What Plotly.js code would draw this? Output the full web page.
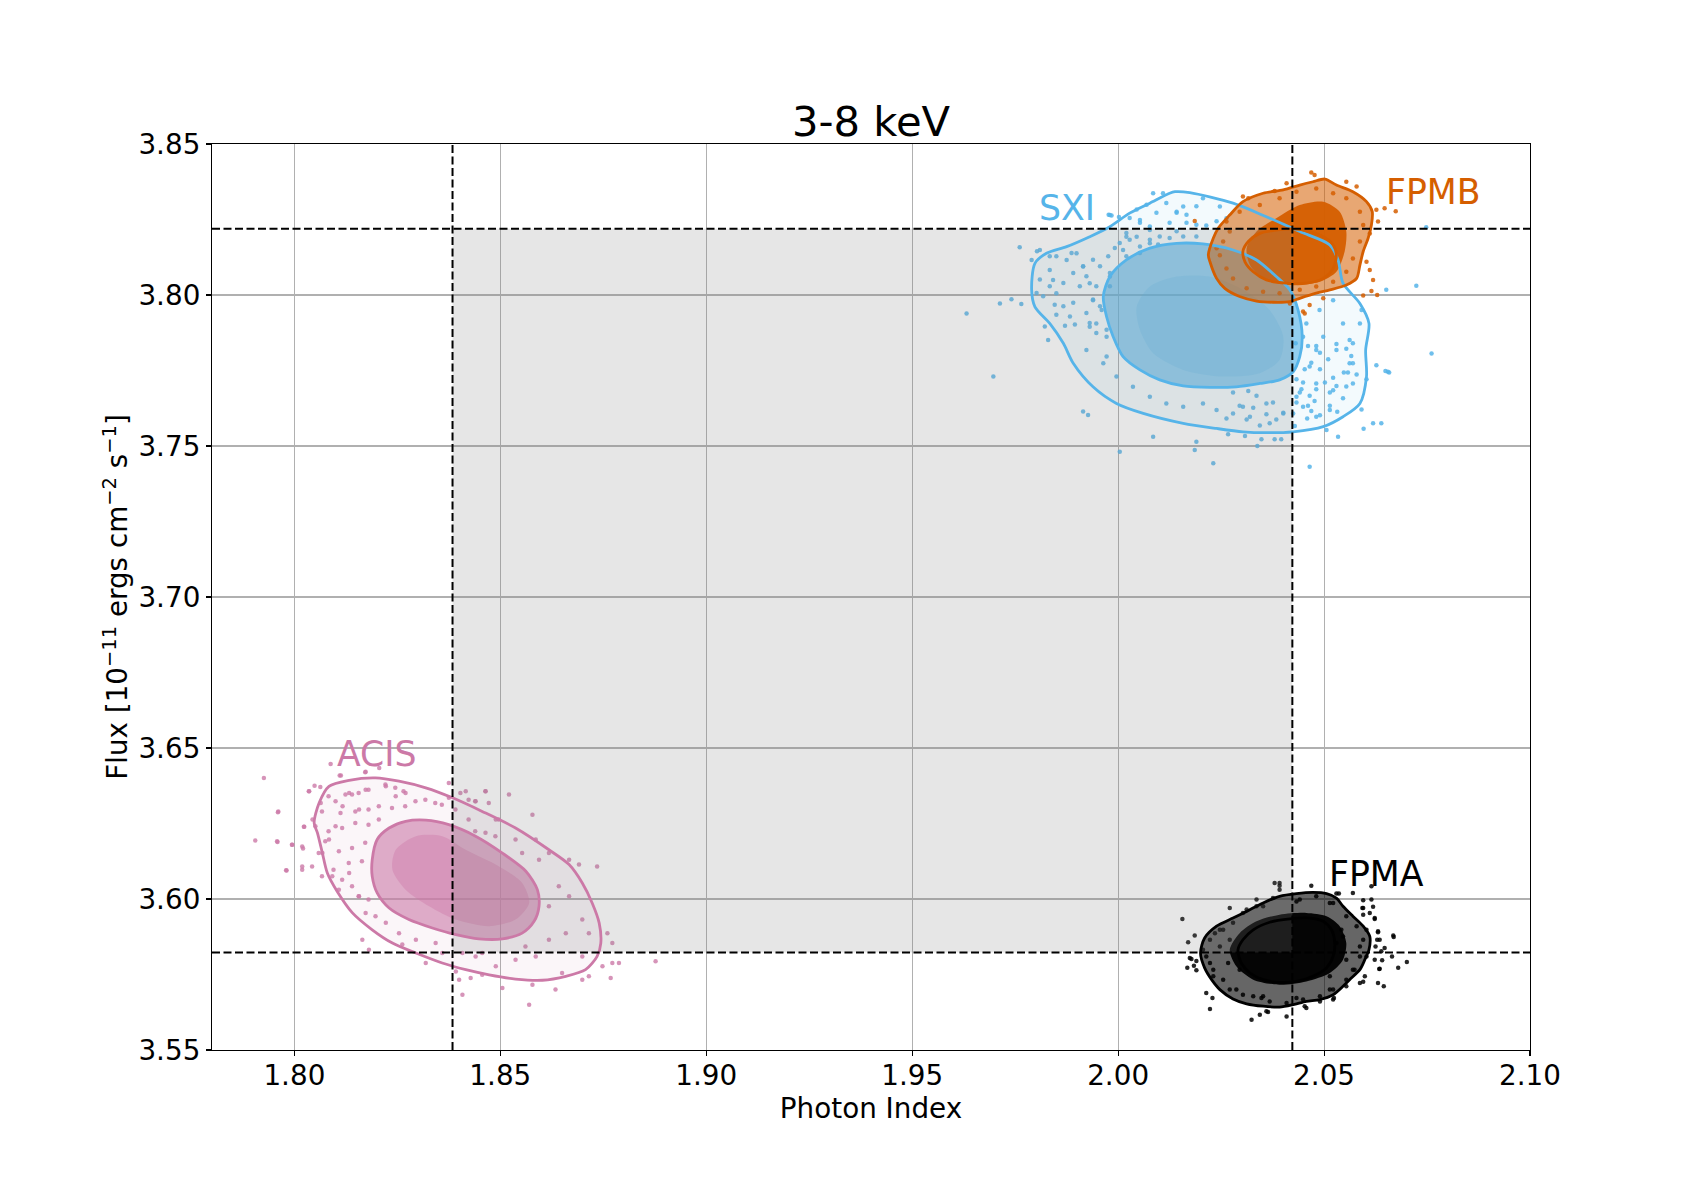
<!DOCTYPE html>
<html>
<head>
<meta charset="utf-8">
<script src="https://cdn.plot.ly/plotly-3.0.1.min.js"></script>
<style>html,body{margin:0;padding:0;background:#fff;}#plot{width:1700px;height:1200px;}</style>
</head>
<body>
<div id="plot"></div>
<script>
// ---------- axis ticks ----------
const xTicks = [1.80, 1.85, 1.90, 1.95, 2.00, 2.05, 2.10];
const xTickLabels = ["1.80", "1.85", "1.90", "1.95", "2.00", "2.05", "2.10"];
const yTicks = [3.55, 3.60, 3.65, 3.70, 3.75, 3.80, 3.85];
const yTickLabels = ["3.55", "3.60", "3.65", "3.70", "3.75", "3.80", "3.85"];

// ---------- reference bounds (dashed lines / shaded region) ----------
const indexLow = 1.8384, indexHigh = 2.0423;
const fluxLow = 3.5823, fluxHigh = 3.8219;

// ---------- instrument labels ----------
const labelNames = ["ACIS", "SXI", "FPMB", "FPMA"];
const labelX = [1.8099, 1.9803, 2.0646, 2.0506];
const labelY = [3.6448, 3.8254, 3.8307, 3.6050];

// ---------- ACIS ----------
const acisOuterX = [1.8048,1.8060,1.8084,1.8133,1.8197,1.8254,1.8319,1.8384,1.8456,1.8537,1.8618,1.8667,1.8699,1.8723,1.8740,1.8744,1.8735,1.8707,1.8659,1.8602,1.8537,1.8473,1.8416,1.8359,1.8295,1.8238,1.8189,1.8141,1.8104,1.8080,1.8068,1.8056];
const acisOuterY = [3.6252,3.6318,3.6373,3.6393,3.6401,3.6390,3.6368,3.6335,3.6290,3.6235,3.6163,3.6114,3.6053,3.5987,3.5921,3.5854,3.5810,3.5766,3.5744,3.5731,3.5735,3.5749,3.5766,3.5788,3.5821,3.5854,3.5898,3.5954,3.6025,3.6086,3.6152,3.6219];
const acisInnerX = [1.8189,1.8201,1.8230,1.8270,1.8319,1.8375,1.8440,1.8505,1.8562,1.8590,1.8594,1.8582,1.8553,1.8505,1.8448,1.8392,1.8335,1.8278,1.8230,1.8201,1.8189];
const acisInnerY = [3.6130,3.6197,3.6235,3.6257,3.6261,3.6246,3.6208,3.6152,3.6092,3.6031,3.5976,3.5926,3.5887,3.5868,3.5868,3.5882,3.5904,3.5932,3.5970,3.6020,3.6075];
const acisCoreX = [1.8246,1.8295,1.8359,1.8416,1.8497,1.8553,1.8570,1.8537,1.8473,1.8392,1.8327,1.8270,1.8238];
const acisCoreY = [3.6163,3.6208,3.6208,3.6163,3.6108,3.6053,3.5987,3.5932,3.5910,3.5932,3.5976,3.6031,3.6097];
const acisPtsX = [1.7926,1.7961,1.7905,1.7959,1.7995,1.7981,1.8019,1.8024,1.8036,1.8088,1.8113,1.8173,1.8206,1.8019,1.8044,1.8064,1.8068,1.8084,1.8100,1.8117,1.8133,1.8157,1.8173,1.8222,1.8246,1.8270,1.8133,1.8108,1.8173,1.8165,1.8181,1.8222,1.8262,1.8295,1.8319,1.8359,1.8375,1.8416,1.8464,1.8521,1.8578,1.8440,1.8489,1.8537,1.8586,1.8618,1.8667,1.8691,1.8735,1.8642,1.8667,1.8618,1.8699,1.8715,1.8760,1.8772,1.8748,1.8772,1.8788,1.8768,1.8877,1.8715,1.8699,1.8650,1.8634,1.8578,1.8570,1.8505,1.8456,1.8428,1.8408,1.8400,1.8392,1.8440,1.8489,1.8537,1.8586,1.8618,1.8659,1.8561,1.8456,1.8408,1.8343,1.8254,1.8197,1.8157,1.8092,1.8594,1.8553,1.8699,
  1.7960,1.7958,1.7994,1.7980,1.8019,1.8021,1.8023,1.8035,1.8049,1.8063,1.8110,1.8172,1.8083,1.8100,1.8124,1.8140,1.8156,1.8180,1.8221,1.8245,1.8265,1.8294,1.8318,1.8342,1.8358,1.8375,1.8403,1.8423,1.8439,1.8464,1.8472,1.8496,1.8067,1.8112,1.8148,1.8180,1.8205,1.8237,1.8269,1.8051,1.8083,1.8116,1.8148,1.8180,1.8205,1.8075,1.8108,1.8140,1.8172,1.8059,1.8043,1.8067,1.8095,1.8132,1.8164,1.8116,1.8140,1.8156,1.8180,1.8391,1.8439,1.8464,1.8488,1.8423];
const acisPtsY = [3.6401,3.6290,3.6194,3.6189,3.6180,3.6094,3.6108,3.6239,3.6357,3.6447,3.6409,3.6421,3.6434,3.6174,3.6263,3.6318,3.6152,3.6197,3.6241,3.6307,3.6351,3.6296,3.6362,3.6373,3.6340,3.6351,3.6086,3.6031,3.5954,3.5865,3.5832,3.5921,3.5849,3.5865,3.5788,3.5821,3.6384,3.6357,3.6357,3.6346,3.6279,3.6324,3.6263,3.6197,3.6197,3.6152,3.6130,3.6114,3.6108,3.6042,3.6009,3.5976,3.5932,3.5887,3.5887,3.5854,3.5777,3.5788,3.5788,3.5738,3.5794,3.5744,3.5733,3.5755,3.5700,3.5716,3.5650,3.5705,3.5749,3.5738,3.5683,3.5733,3.5760,3.5810,3.5777,3.5799,3.5810,3.5865,3.5887,3.5843,3.5821,3.5821,3.5854,3.5887,3.5943,3.6009,3.6075,3.6130,3.6152,3.5810,
  3.6287,3.6191,3.6180,3.6095,3.6097,3.6167,3.6239,3.6357,3.6375,3.6371,3.6409,3.6420,3.6340,3.6324,3.6346,3.6346,3.6351,3.6362,3.6379,3.6368,3.6357,3.6324,3.6329,3.6318,3.6312,3.6335,3.6351,3.6329,3.6324,3.6357,3.6318,3.6263,3.6290,3.6285,3.6290,3.6296,3.6307,3.6301,3.6307,3.6241,3.6224,3.6235,3.6252,3.6246,3.6263,3.6191,3.6158,3.6169,3.6186,3.6152,3.6108,3.6075,3.6097,3.6119,3.6125,3.6064,3.6042,3.6009,3.5998,3.6296,3.6224,3.6219,3.6208,3.6263];

// ---------- SXI ----------
const sxiOuterX = [2.0138,2.0174,2.0279,2.0360,2.0441,2.0514,2.0534,2.0546,2.0587,2.0609,2.0601,2.0603,2.0587,2.0546,2.0498,2.0425,2.0360,2.0303,2.0239,2.0158,2.0061,1.9996,1.9939,1.9891,1.9867,1.9834,1.9798,1.9790,1.9798,1.9826,1.9875,1.9931,1.9980,2.0028,2.0077,2.0125];
const sxiOuterY = [3.8342,3.8339,3.8304,3.8259,3.8210,3.8166,3.8116,3.8039,3.7972,3.7906,3.7818,3.7730,3.7641,3.7597,3.7564,3.7547,3.7544,3.7547,3.7558,3.7575,3.7608,3.7641,3.7696,3.7774,3.7840,3.7906,3.7961,3.8017,3.8105,3.8138,3.8160,3.8193,3.8226,3.8271,3.8304,3.8337];
const sxiInnerX = [1.9964,1.9980,2.0020,2.0077,2.0142,2.0206,2.0279,2.0336,2.0384,2.0417,2.0437,2.0447,2.0441,2.0425,2.0392,2.0344,2.0287,2.0223,2.0158,2.0101,2.0053,2.0012,1.9988,1.9972];
const sxiInnerY = [3.7995,3.8061,3.8116,3.8155,3.8171,3.8169,3.8149,3.8116,3.8061,3.8017,3.7950,3.7862,3.7796,3.7746,3.7719,3.7707,3.7696,3.7694,3.7699,3.7719,3.7752,3.7796,3.7862,3.7928];
const sxiCoreX = [2.0045,2.0077,2.0142,2.0223,2.0303,2.0368,2.0401,2.0392,2.0344,2.0255,2.0158,2.0085,2.0053];
const sxiCoreY = [3.7961,3.8028,3.8061,3.8061,3.8017,3.7950,3.7862,3.7785,3.7741,3.7730,3.7752,3.7807,3.7884];
const sxiPtsX = [1.9632,1.9697,1.9713,1.9741,1.9765,1.9761,1.9790,1.9810,1.9834,1.9842,1.9850,1.9830,1.9875,1.9899,1.9915,1.9931,1.9939,1.9923,1.9964,1.9931,1.9972,1.9915,1.9927,2.0004,2.0085,2.0190,2.0186,2.0231,2.0465,1.9980,2.0053,2.0085,2.0109,2.0142,2.0045,2.0077,2.0020,2.0158,2.0206,2.0247,2.0263,2.0651,2.0655,2.0619,2.0639,2.0591,2.0534,2.0562,2.0570,2.0514,2.0546,2.0522,2.0481,2.0465,2.0481,2.0449,2.0457,2.0489,2.0522,2.0546,2.0498,2.0530,2.0587,2.0562,2.0449,2.0425,2.0368,2.0320,2.0279,2.0239,2.0206,2.0158,2.0117,2.0077,2.0036,1.9996,1.9972,1.9947,1.9960,1.9980,2.0012,2.0077,2.0401,2.0481,2.0433,2.0360,2.0303,2.0506,2.0724,2.0748,2.0761,
  2.0431,2.0461,2.0481,2.0490,2.0510,2.0530,2.0554,2.0570,2.0566,2.0558,2.0548,2.0579,2.0570,2.0530,2.0514,2.0502,2.0481,2.0465,2.0449,2.0433,2.0441,2.0477,2.0461,2.0469,2.0433,2.0445,2.0514,2.0532,2.0554,2.0591,2.0603,2.0627,2.0649,2.0658,2.0596,2.0490,2.0459,2.0429,2.0522,2.0490,2.0469,2.0453,2.0263,2.0312,2.0344,2.0384,2.0401,2.0360,2.0328,2.0295,2.0376,2.0336,2.0308,2.0348,2.0380,2.0396,2.0338,2.0267,2.0279,2.0316,
  1.9977,1.9984,2.0002,2.0028,2.0045,2.0069,2.0093,2.0117,2.0142,2.0166,2.0190,2.0214,2.0239,2.0053,2.0077,2.0125,2.0166,2.0190,1.9803,1.9834,1.9850,1.9887,1.9915,1.9939,1.9956,1.9976,1.9980,1.9947,1.9923,1.9891,1.9867,1.9834,1.9810,1.9818,1.9846,1.9867,1.9891,1.9923,1.9939,1.9956,1.9822,1.9871,1.9895,1.9931,1.9947,1.9972,1.9992,2.0004,2.0028,2.0053,2.0077,2.0101,2.0125,2.0158,2.0190,2.0020,2.0053,2.0097,1.9907,1.9883,1.9802,1.9850,1.9980,2.0020,2.0142];
const sxiPtsY = [3.7939,3.7730,3.7972,3.7986,3.7970,3.8158,3.8116,3.8149,3.8083,3.8050,3.8006,3.7851,3.8116,3.8138,3.8094,3.8039,3.7983,3.7818,3.7774,3.7895,3.7862,3.7614,3.7603,3.7481,3.7531,3.7514,3.7487,3.7443,3.7431,3.8265,3.8248,3.8337,3.8337,3.8276,3.8193,3.8215,3.8193,3.8293,3.8320,3.8293,3.8254,3.8017,3.7746,3.7575,3.7575,3.7950,3.7531,3.7774,3.7707,3.7619,3.7658,3.7685,3.7707,3.7763,3.7818,3.7862,3.7906,3.7950,3.7983,3.7906,3.7862,3.7818,3.7906,3.7851,3.7630,3.7608,3.7575,3.7597,3.7608,3.7619,3.7641,3.7630,3.7641,3.7663,3.7696,3.7730,3.7796,3.7906,3.7950,3.8061,3.8149,3.8171,3.7608,3.7597,3.7663,3.7641,3.7630,3.7553,3.8031,3.8224,3.7806,
  3.7840,3.7831,3.7831,3.7809,3.7787,3.7838,3.7822,3.7840,3.7798,3.7743,3.7743,3.7737,3.7774,3.7699,3.7677,3.7710,3.7688,3.7666,3.7710,3.7721,3.7677,3.7649,3.7633,3.7616,3.7644,3.7688,3.7633,3.7613,3.7697,3.7621,3.7721,3.7767,3.7748,3.7743,3.7557,3.7602,3.7591,3.7566,3.7726,3.7754,3.7776,3.7754,3.7591,3.7588,3.7568,3.7588,3.7610,3.7605,3.7627,3.7633,3.7644,3.7666,3.7533,3.7522,3.7522,3.7522,3.7500,3.7539,3.7677,3.7682,
  3.8266,3.8263,3.8258,3.8255,3.8283,3.8299,3.8272,3.8305,3.8272,3.8266,3.8294,3.8230,3.8244,3.8239,3.8227,3.8239,3.8239,3.8233,3.8145,3.8128,3.8128,3.8139,3.8095,3.8117,3.8095,3.8128,3.8073,3.8029,3.8062,3.8073,3.8040,3.8029,3.8051,3.7996,3.7968,3.7963,3.7974,3.7940,3.7985,3.7963,3.7896,3.7898,3.7902,3.7907,3.7874,3.7885,3.8156,3.8172,3.8183,3.8161,3.8183,3.8194,3.8189,3.8194,3.8194,3.8128,3.8139,3.8167,3.8029,3.7929,3.8007,3.7935,3.8029,3.8205,3.8211];

// ---------- FPMB ----------
const fpmbOuterX = [2.0502,2.0530,2.0570,2.0603,2.0617,2.0615,2.0607,2.0595,2.0587,2.0579,2.0554,2.0514,2.0481,2.0441,2.0417,2.0376,2.0336,2.0295,2.0259,2.0239,2.0223,2.0219,2.0231,2.0243,2.0271,2.0303,2.0352,2.0401,2.0441,2.0473];
const fpmbOuterY = [3.8384,3.8364,3.8342,3.8309,3.8276,3.8232,3.8188,3.8144,3.8099,3.8055,3.8033,3.8017,3.8006,3.7989,3.7978,3.7976,3.7980,3.7995,3.8022,3.8055,3.8110,3.8133,3.8188,3.8221,3.8265,3.8309,3.8337,3.8348,3.8364,3.8375];
const fpmbInnerX = [2.0303,2.0316,2.0344,2.0384,2.0425,2.0465,2.0498,2.0522,2.0530,2.0522,2.0498,2.0457,2.0409,2.0360,2.0328,2.0308];
const fpmbInnerY = [3.8144,3.8177,3.8204,3.8215,3.8219,3.8210,3.8193,3.8166,3.8133,3.8088,3.8055,3.8039,3.8039,3.8050,3.8077,3.8110];
const fpmbCoreX = [2.0312,2.0336,2.0384,2.0441,2.0498,2.0538,2.0554,2.0550,2.0530,2.0490,2.0417,2.0352,2.0320];
const fpmbCoreY = [3.8155,3.8210,3.8254,3.8298,3.8309,3.8276,3.8210,3.8144,3.8077,3.8044,3.8033,3.8055,3.8099];
const fpmbPtsX = [2.0186,2.0303,2.0316,2.0380,2.0409,2.0469,2.0477,2.0554,2.0579,2.0627,2.0647,2.0631,2.0611,2.0603,2.0611,2.0619,2.0615,2.0595,2.0449,2.0453,2.0271,2.0255,2.0247,2.0263,2.0279,2.0312,2.0352,2.0392,2.0441,2.0481,2.0522,2.0554,2.0570,2.0587,2.0595,2.0587,2.0554,2.0522,2.0481,2.0433,2.0392,2.0344,2.0295,2.0263,2.0239,2.0498,2.0465,2.0417,2.0674,2.0629];
const fpmbPtsY = [3.8245,3.8326,3.8320,3.8344,3.8370,3.8406,3.8397,3.8375,3.8359,3.8282,3.8287,3.8243,3.8204,3.8110,3.8083,3.8050,3.8013,3.7998,3.7945,3.7939,3.8210,3.8177,3.8132,3.8088,3.8055,3.8022,3.8011,3.8006,3.8017,3.8028,3.8044,3.8077,3.8121,3.8177,3.8232,3.8276,3.8320,3.8337,3.8353,3.8342,3.8320,3.8298,3.8276,3.8243,3.8155,3.7989,3.7967,3.7972,3.8277,3.8000];

// ---------- FPMA ----------
const fpmaOuterX = [2.0200,2.0210,2.0239,2.0279,2.0312,2.0352,2.0392,2.0433,2.0473,2.0506,2.0530,2.0546,2.0570,2.0595,2.0611,2.0609,2.0599,2.0587,2.0562,2.0546,2.0522,2.0490,2.0457,2.0425,2.0392,2.0352,2.0312,2.0279,2.0247,2.0227,2.0210];
const fpmaOuterY = [3.5821,3.5871,3.5910,3.5937,3.5959,3.5987,3.6009,3.6018,3.6022,3.6018,3.6003,3.5976,3.5943,3.5910,3.5876,3.5832,3.5799,3.5766,3.5733,3.5711,3.5683,3.5667,3.5661,3.5650,3.5642,3.5645,3.5653,3.5669,3.5700,3.5733,3.5772];
const fpmaInnerX = [2.0291,2.0303,2.0328,2.0368,2.0417,2.0465,2.0498,2.0518,2.0526,2.0522,2.0506,2.0473,2.0433,2.0392,2.0352,2.0320,2.0299];
const fpmaInnerY = [3.5832,3.5865,3.5898,3.5923,3.5934,3.5937,3.5926,3.5898,3.5854,3.5810,3.5772,3.5744,3.5727,3.5724,3.5733,3.5755,3.5788];
const fpmaCoreX = [2.0271,2.0295,2.0336,2.0392,2.0457,2.0506,2.0538,2.0554,2.0546,2.0514,2.0457,2.0392,2.0328,2.0287];
const fpmaCoreY = [3.5832,3.5887,3.5926,3.5948,3.5954,3.5943,3.5910,3.5854,3.5799,3.5755,3.5727,3.5716,3.5733,3.5777];
const fpmaPtsX = [2.0156,2.0170,2.0186,2.0168,2.0174,2.0190,2.0223,2.0214,2.0229,2.0271,2.0324,2.0344,2.0364,2.0409,2.0453,2.0490,2.0522,2.0570,2.0595,2.0593,2.0615,2.0623,2.0619,2.0631,2.0635,2.0668,2.0647,2.0645,2.0631,2.0634,2.0680,2.0701,2.0665,2.0603,2.0599,2.0587,2.0554,2.0392,2.0380,2.0469,2.0530,2.0312,2.0247,2.0206,2.0231,2.0271,2.0352,2.0433,2.0514,2.0570,2.0587,2.0603,2.0514,2.0433,2.0352,
  2.0223,2.0235,2.0255,2.0279,2.0303,2.0336,2.0376,2.0441,2.0481,2.0522,2.0554,2.0579,2.0595,2.0587,2.0574,2.0554,2.0522,2.0490,2.0449,2.0409,2.0368,2.0328,2.0287,2.0255,2.0231,2.0214,2.0247,2.0271,2.0546,2.0554,2.0223,2.0267,2.0295,2.0514,2.0530,2.0542,2.0336,2.0392,2.0348,2.0303,
  2.0178,2.0190,2.0184,2.0360,2.0457,2.0524,2.0595,2.0623,2.0641,2.0635,2.0629,2.0625,2.0639,2.0669,2.0631,2.0611,2.0623,2.0595,2.0595,2.0536,2.0615,2.0392];
const fpmaPtsY = [3.5934,3.5857,3.5879,3.5772,3.5805,3.5764,3.5636,3.5689,3.5672,3.5970,3.5600,3.5617,3.5626,3.5611,3.5645,3.5661,3.5667,3.6020,3.5996,3.5970,3.6042,3.5937,3.5974,3.5893,3.5865,3.5879,3.5838,3.5711,3.5722,3.5768,3.5772,3.5791,3.5810,3.5810,3.5744,3.5722,3.5711,3.6053,3.6053,3.6044,3.6018,3.5965,3.5898,3.5832,3.5744,3.5700,3.5678,3.5672,3.5700,3.5766,3.5843,3.5898,3.5987,3.5992,3.5976,
  3.5865,3.5887,3.5898,3.5921,3.5954,3.5976,3.6003,3.5998,3.6009,3.5987,3.5943,3.5910,3.5865,3.5810,3.5766,3.5733,3.5700,3.5678,3.5667,3.5656,3.5661,3.5678,3.5700,3.5733,3.5766,3.5810,3.5843,3.5865,3.5876,3.5799,3.5788,3.5788,3.5766,3.5744,3.5854,3.5898,3.5998,3.6031,3.5672,3.5683,
  3.5801,3.5795,3.5779,3.5628,3.5639,3.5672,3.5726,3.5799,3.5797,3.5769,3.5865,3.5843,3.5827,3.5874,3.5890,3.5954,3.5934,3.5970,3.5948,3.6018,3.5998,3.6044];

// ---------- colours ----------
const colACIS = [204, 121, 167];
const colSXI = [86, 180, 233];
const colFPMB = [213, 94, 0];
const colFPMA = [0, 0, 0];
const labelColors = ["#CC79A7", "#56B4E9", "#D55E00", "#000000"];

const FONT = "DejaVu Sans, Liberation Sans, Arial, sans-serif";
function rgba(c, a) { return "rgba(" + c[0] + "," + c[1] + "," + c[2] + "," + a + ")"; }
function closed(a) { return a.concat([a[0]]); }

function fillTrace(xs, ys, c, a) {
  return {x: closed(xs), y: closed(ys), type: "scatter", mode: "lines", fill: "toself",
          fillcolor: rgba(c, a), line: {width: 0, shape: "spline", smoothing: 0.8},
          hoverinfo: "skip", showlegend: false};
}
function ptsTrace(xs, ys, c, a, s) {
  return {x: xs, y: ys, type: "scatter", mode: "markers",
          marker: {size: s, color: rgba(c, a), line: {width: 0}},
          hoverinfo: "skip", showlegend: false};
}
function lineTrace(xs, ys, c) {
  return {x: closed(xs), y: closed(ys), type: "scatter", mode: "lines",
          line: {width: 2.8, color: rgba(c, 1), shape: "spline", smoothing: 0.8},
          hoverinfo: "skip", showlegend: false};
}

const traces = [
  // ACIS
  fillTrace(acisOuterX, acisOuterY, colACIS, 0.07),
  fillTrace(acisInnerX, acisInnerY, colACIS, 0.60),
  fillTrace(acisCoreX, acisCoreY, colACIS, 0.40),
  ptsTrace(acisPtsX, acisPtsY, colACIS, 0.8, 4.5),
  // SXI
  fillTrace(sxiOuterX, sxiOuterY, colSXI, 0.07),
  fillTrace(sxiInnerX, sxiInnerY, colSXI, 0.62),
  fillTrace(sxiCoreX, sxiCoreY, colSXI, 0.22),
  ptsTrace(sxiPtsX, sxiPtsY, colSXI, 0.85, 4.5),
  // FPMB
  fillTrace(fpmbOuterX, fpmbOuterY, colFPMB, 0.55),
  fillTrace(fpmbCoreX, fpmbCoreY, colFPMB, 0.95),
  ptsTrace(fpmbPtsX, fpmbPtsY, colFPMB, 0.85, 4.5),
  // FPMA
  fillTrace(fpmaOuterX, fpmaOuterY, colFPMA, 0.60),
  fillTrace(fpmaCoreX, fpmaCoreY, colFPMA, 0.95),
  ptsTrace(fpmaPtsX, fpmaPtsY, colFPMA, 0.85, 4.5),
  // shaded region (drawn over the points, like the reference)
  {x: [indexLow, indexHigh, indexHigh, indexLow, indexLow], y: [fluxLow, fluxLow, fluxHigh, fluxHigh, fluxLow],
   type: "scatter", mode: "lines", fill: "toself", fillcolor: "rgba(128,128,128,0.2)",
   line: {width: 0}, hoverinfo: "skip", showlegend: false},
  // contours
  lineTrace(acisOuterX, acisOuterY, colACIS),
  lineTrace(acisInnerX, acisInnerY, colACIS),
  lineTrace(sxiOuterX, sxiOuterY, colSXI),
  lineTrace(sxiInnerX, sxiInnerY, colSXI),
  lineTrace(fpmbOuterX, fpmbOuterY, colFPMB),
  lineTrace(fpmbInnerX, fpmbInnerY, colFPMB),
  lineTrace(fpmaOuterX, fpmaOuterY, colFPMA),
  lineTrace(fpmaInnerX, fpmaInnerY, colFPMA)
];

const dash = {color: "#000", width: 2, dash: "8px,3.5px"};
const shapes = [
  {type: "line", xref: "x", yref: "paper", x0: indexLow, x1: indexLow, y0: 0, y1: 1, line: dash, layer: "above"},
  {type: "line", xref: "x", yref: "paper", x0: indexHigh, x1: indexHigh, y0: 0, y1: 1, line: dash, layer: "above"},
  {type: "line", xref: "paper", yref: "y", x0: 0, x1: 1, y0: fluxLow, y1: fluxLow, line: dash, layer: "above"},
  {type: "line", xref: "paper", yref: "y", x0: 0, x1: 1, y0: fluxHigh, y1: fluxHigh, line: dash, layer: "above"}
];

const annotations = labelNames.map((t, i) => ({
  text: t, x: labelX[i], y: labelY[i], xref: "x", yref: "y",
  xanchor: "left", yanchor: "bottom", yshift: -12, showarrow: false,
  font: {family: FONT, size: 34.7, color: labelColors[i]}
}));

const axisCommon = {
  showgrid: true, gridcolor: "#b0b0b0", gridwidth: 1.1, zeroline: false,
  showline: true, linecolor: "#000", linewidth: 1.1, mirror: true,
  ticks: "outside", ticklen: 5, tickwidth: 1.1, tickcolor: "#000",
  tickfont: {family: FONT, size: 27.8, color: "#000"}
};

const layout = {
  width: 1700, height: 1200,
  margin: {l: 212, r: 170, t: 144, b: 150, pad: 0},
  paper_bgcolor: "#fff", plot_bgcolor: "#fff",
  font: {family: FONT, color: "#000"},
  title: {text: "3-8 keV", font: {family: FONT, size: 41.7, color: "#000"},
          x: 0.5, xref: "paper", xanchor: "center", y: 1, yref: "paper", yanchor: "bottom", pad: {b: 8}},
  xaxis: Object.assign({}, axisCommon, {
    range: [1.78, 2.10], tickmode: "array", tickvals: xTicks, ticktext: xTickLabels,
    ticklabelstandoff: -4,
    title: {text: "Photon Index", font: {family: FONT, size: 27.8, color: "#000"}, standoff: 2}
  }),
  yaxis: Object.assign({}, axisCommon, {
    range: [3.55, 3.85], tickmode: "array", tickvals: yTicks, ticktext: yTickLabels,
    title: {text: "Flux [10<sup>−11</sup> ergs cm<sup>−2</sup> s<sup>−1</sup>]", font: {family: FONT, size: 27.8, color: "#000"}, standoff: 2}
  }),
  shapes: shapes,
  annotations: annotations,
  showlegend: false
};

Plotly.newPlot("plot", traces, layout, {displayModeBar: false, staticPlot: true});
</script>
</body>
</html>
